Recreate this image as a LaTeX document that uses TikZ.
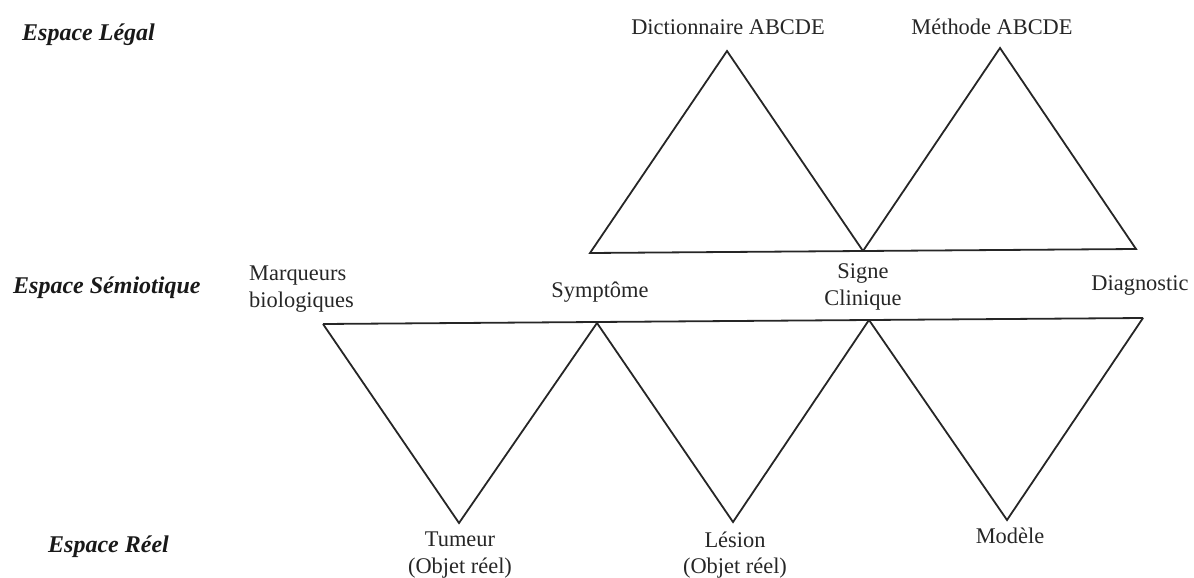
\documentclass[tikz,border=0pt]{standalone}
\usepackage{fontspec}
\setmainfont{Liberation Serif}
\begin{document}
\begin{tikzpicture}[x=1pt,y=-1pt,
  edge/.style={draw=black!85,line width=1.8pt,line join=miter},
  lbl/.style={inner sep=0pt,font=\fontsize{22.4}{26.5}\selectfont,align=center,text=black!85},
  space/.style={inner sep=0pt,anchor=west,font=\fontsize{24}{28}\selectfont\bfseries\itshape,text=black!90}]
\useasboundingbox (0,0) rectangle (1194,578);
% vertices
\coordinate (uL) at (590,253);
\coordinate (uA) at (727,51);
\coordinate (uM) at (863,251);
\coordinate (uB) at (1000,48);
\coordinate (uR) at (1136,249);
\coordinate (lL) at (323,324);
\coordinate (lS) at (597,323);
\coordinate (lC) at (869,320);
\coordinate (lR) at (1143,318);
\coordinate (dT) at (459,523);
\coordinate (dL) at (733,522);
\coordinate (dM) at (1007,520);
% upper triangles
\draw[edge] (uL) -- (uA) -- (uM) -- cycle;
\draw[edge] (uM) -- (uB) -- (uR) -- cycle;
% lower line and triangles
\draw[edge] (lL) -- (lR);
\draw[edge] (lL) -- (dT) -- (lS);
\draw[edge] (lS) -- (dL) -- (lC);
\draw[edge] (lC) -- (dM) -- (lR);
% labels
\node[lbl] (dict) at (728,27) {Dictionnaire ABCDE};
\node[lbl] (meth) at (992,27) {Méthode ABCDE};
\node[lbl,align=left,anchor=west] (marq) at (249,289) {Marqueurs\\biologiques};
\node[lbl] (symp) at (600,292) {Symptôme};
\node[lbl] (signe) at (863,287) {Signe\\Clinique};
\node[lbl] (diag) at (1140,285) {Diagnostic};
\node[lbl] (tum) at (460,555) {Tumeur\\(Objet réel)};
\node[lbl] (les) at (735,555) {Lésion\\(Objet réel)};
\node[lbl] (mod) at (1010,536) {Modèle};
% spaces
\node[space] (legal) at (22,35) {Espace Légal};
\node[space] (semio) at (13,288) {Espace Sémiotique};
\node[space] (reel) at (48,547) {Espace Réel};
\end{tikzpicture}
\end{document}
